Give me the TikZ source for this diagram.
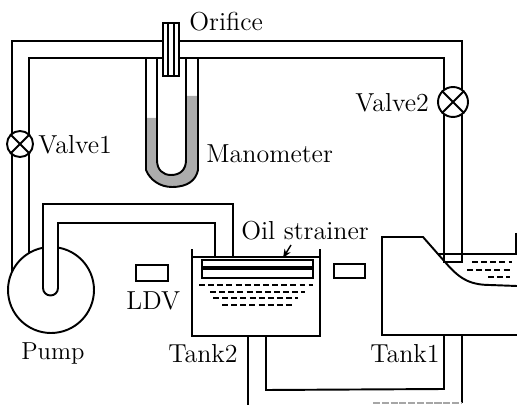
\documentclass[tikz,border=0pt]{standalone}
\usepackage{tikz}
\usetikzlibrary{arrows.meta}
\tikzset{
    wall/.style={line width=1.1pt},
    lab/.style={inner sep=0pt,anchor=base west,font=\fontsize{14.8}{16}\selectfont},
    valve/.style={circle,draw,line width=1.1pt,fill=white,minimum size=#1,inner sep=0pt},
    oil/.style={line width=0.7pt,dash pattern=on 3.4pt off 1.8pt}
}
\begin{document}
\begin{tikzpicture}[x=0.02cm,y=-0.02cm]
    \useasboundingbox (0,0) rectangle (517,405);

    % Main pipe
    \coordinate (vo) at (20,144);
    \coordinate (vt) at (453,102);
    \draw[wall] (12,272) -- (12,41) -- (462,41) -- (462,262) -- (444,262) -- (444,58) -- (29,58) -- (29,253);

    % Manometer
    \fill[gray!65] (146,118) -- (157,118) -- (157,160) .. controls (157,170) and (163,175) .. (171,175)
        .. controls (180,175) and (186,170) .. (186,160) -- (186,96) -- (198,96) -- (198,170)
        .. controls (196,180) and (188,187) .. (172,187) .. controls (160,187) and (150,180) .. (146,170) -- cycle;
    \draw[wall] (146,58) -- (146,170) .. controls (150,180) and (160,187) .. (172,187)
        .. controls (188,187) and (196,180) .. (198,170) -- (198,58);
    \draw[wall] (157,58) -- (157,160) .. controls (157,170) and (163,175) .. (171,175)
        .. controls (180,175) and (186,170) .. (186,160) -- (186,58);

    % Orifice
    \draw[wall,fill=white] (163,23) rectangle (179,76);
    \draw[line width=0.7pt] (168,23) -- (168,76) (174,23) -- (174,76);

    % Valves
    \node[valve=0.52cm] (V1) at (vo) {};
    \draw[wall] (V1.north west) -- (V1.south east) (V1.north east) -- (V1.south west);
    \node[valve=0.6cm] (V2) at (vt) {};
    \draw[wall] (V2.north west) -- (V2.south east) (V2.north east) -- (V2.south west);

    % Pump
    \node[circle,draw,line width=1.1pt,fill=white,minimum size=1.72cm,inner sep=0pt] (P) at (51,290) {};
    \draw[wall,fill=white] (215,257) -- (215,223) -- (58,223) -- (58,288)
        arc[start angle=0,end angle=180,radius=7.5] -- (43,204) -- (233,204) -- (233,257);

    % Tank2
    \draw[wall] (192,249) -- (192,336) -- (320,336) -- (320,249);
    \draw[wall] (192,257) -- (320,257);
    \draw[wall] (202,260) rectangle (313,278);
    \draw[line width=1.8pt] (202,268) -- (313,268);
    \draw[oil] (199,285) -- (313,285);
    \draw[oil] (210,292) -- (305,292);
    \draw[oil] (213,298) -- (298,298);
    \draw[oil] (222,305) -- (293,305);
    \draw[line width=0.8pt,-{Stealth[length=5pt,width=4pt]}] (291,245) -- (283,258);

    % Tank1
    \draw[wall] (517,335) -- (382,335) -- (382,237) -- (423,237) -- (445,262)
        .. controls (458,277) and (468,285) .. (490,285) -- (517,286);
    \draw[wall] (438,254) -- (517,254);
    \draw[wall] (516,233) -- (516,254);
    \draw[oil] (472,262) -- (512,262);
    \draw[oil] (467,270) -- (510,270);
    \draw[oil] (488,277) -- (510,277);

    % Return pipes
    \draw[wall] (266,336) -- (266,390) -- (444,389) -- (444,335);
    \draw[wall] (248,336) -- (248,405);
    \draw[wall] (462,335) -- (462,403);
    \draw[line width=0.7pt,gray!70,dash pattern=on 4pt off 1pt] (373,403) -- (462,403);

    % LDV
    \draw[wall] (136,265) rectangle (168,281);
    \draw[wall] (334,264) rectangle (365,278);

    \node[lab] (orifice) at (189,31) {Orifice};
    \node[lab] (valve1) at (38,154) {Valve1};
    \node[lab] (valve2) at (355,112) {Valve2};
    \node[lab] (mano) at (206,163) {Manometer};
    \node[lab] (strainer) at (241,239) {Oil strainer};
    \node[lab] (ldv) at (126,309) {LDV};
    \node[lab,font=\fontsize{14}{15}\selectfont] (pump) at (21,359) {Pump};
    \node[lab] (tank2) at (168,362) {Tank2};
    \node[lab] (tank1) at (370,362) {Tank1};
\end{tikzpicture}
\end{document}
